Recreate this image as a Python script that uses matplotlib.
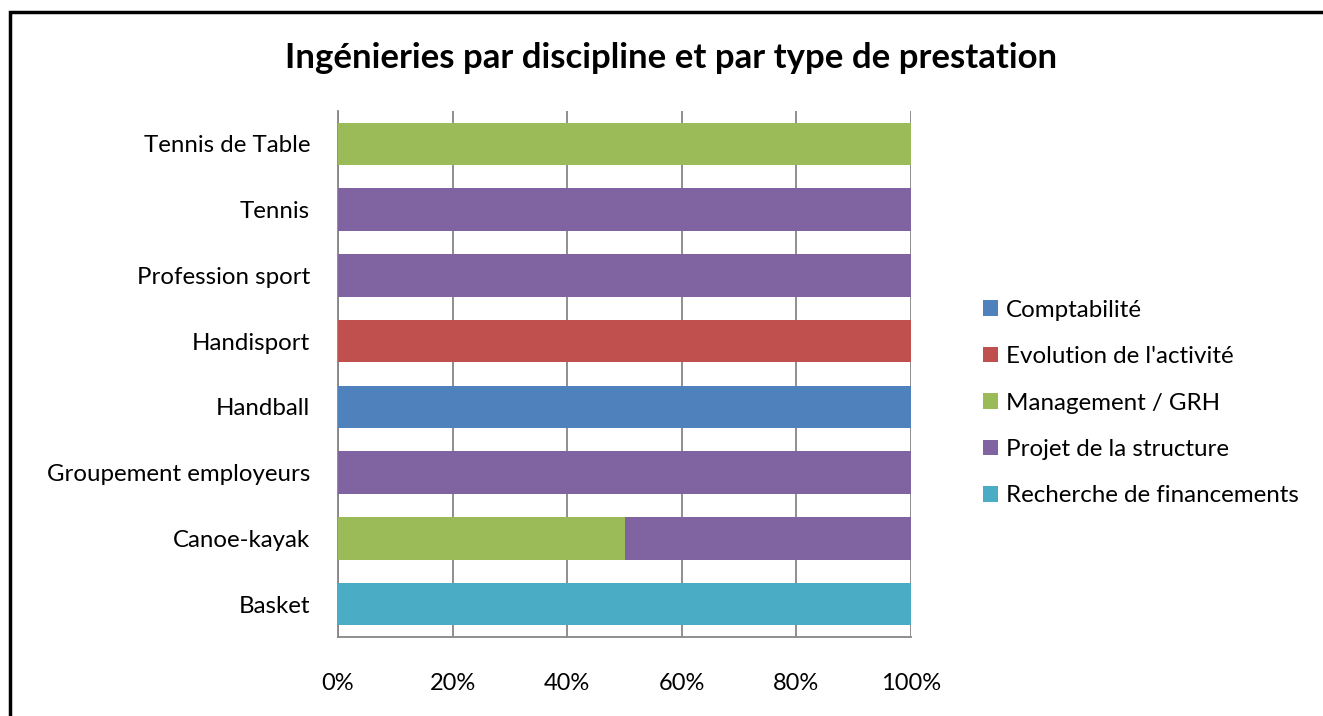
import matplotlib
matplotlib.use('Agg')
import matplotlib.pyplot as plt
from matplotlib.patches import Rectangle
import numpy as np

plt.rcParams['font.family'] = ['Lato', 'DejaVu Sans']

# disciplines, bottom to top
categories = ['Basket', 'Canoe-kayak', 'Groupement employeurs', 'Handball',
              'Handisport', 'Profession sport', 'Tennis', 'Tennis de Table']
series = ['Comptabilité', "Evolution de l'activité", 'Management / GRH',
          'Projet de la structure', 'Recherche de financements']
colors = ['#4F81BD', '#C0504D', '#9BBB59', '#8064A2', '#4BACC6']

# part (%) de chaque type de prestation par discipline
comptabilite = [0, 0, 0, 100, 0, 0, 0, 0]
evolution = [0, 0, 0, 0, 100, 0, 0, 0]
management = [0, 50, 0, 0, 0, 0, 0, 100]
projet = [0, 50, 100, 0, 0, 100, 100, 0]
recherche = [100, 0, 0, 0, 0, 0, 0, 0]
values = [comptabilite, evolution, management, projet, recherche]

W, H = 1323, 716
fig = plt.figure(figsize=(W / 100, H / 100), dpi=100)
ax = fig.add_axes([338 / W, 1 - 637 / H, (911 - 338) / W, (637 - 111) / H])

y = np.arange(len(categories))
left = np.zeros(len(categories))
for name, vals, c in zip(series, values, colors):
    ax.barh(y, vals, left=left, height=0.65, color=c, label=name, zorder=3)
    left += np.array(vals)

ax.set_xlim(0, 100)
ax.set_ylim(-0.5, len(categories) - 0.5)
ax.set_xticks(range(0, 101, 20))
ax.set_xticklabels(['%d%%' % v for v in range(0, 101, 20)], fontsize=17)
ax.set_yticks(y)
ax.set_yticklabels(categories, fontsize=17.3)
ax.tick_params(axis='both', length=0)
ax.tick_params(axis='x', pad=26)
ax.tick_params(axis='y', pad=20)
ax.grid(axis='x', color='#868686', linewidth=1.3, zorder=0)
for s in ['top', 'right']:
    ax.spines[s].set_visible(False)
for s in ['left', 'bottom']:
    ax.spines[s].set_color('#868686')
    ax.spines[s].set_linewidth(1.3)

fig.text(671 / W, 1 - 58 / H, 'Ingénieries par discipline et par type de prestation',
         ha='center', va='center', fontsize=25, fontweight='bold')

handles, labels = ax.get_legend_handles_labels()
fig.legend(handles, labels, loc='center left', bbox_to_anchor=(961 / W, 1 - 403 / H),
           frameon=False, fontsize=17.4, handlelength=0.62, handleheight=0.62,
           handletextpad=0.35, labelspacing=1.05)

fig.add_artist(Rectangle((10 / W, -0.1), 1.2, 1 - 12 / H + 0.1, transform=fig.transFigure,
                         fill=False, edgecolor='black', linewidth=2.5))

fig.savefig('out.png', dpi=100)
